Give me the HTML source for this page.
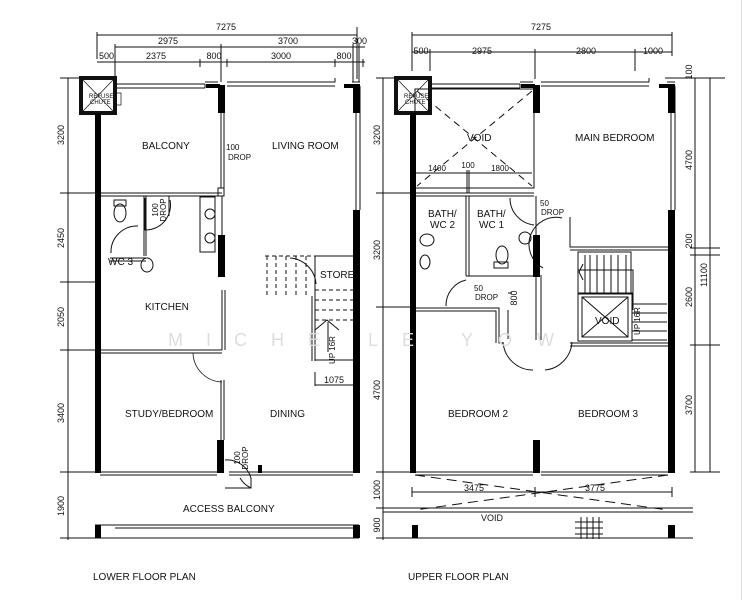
<!DOCTYPE html>
<html><head><meta charset="utf-8"><style>
html,body{margin:0;padding:0;background:#fff}
svg{display:block}
text{font-family:"Liberation Sans",sans-serif;fill:#111}
</style></head><body>
<svg width="743" height="600" viewBox="0 0 743 600" xmlns="http://www.w3.org/2000/svg">
<rect width="743" height="600" fill="#fff"/>
<line x1="741.5" y1="0" x2="741.5" y2="600" stroke="#ddd"/>
<g stroke="#111" stroke-width="1" fill="none">
<line x1="97" y1="35" x2="357" y2="35"/>
<line x1="115" y1="47" x2="365" y2="47"/>
<line x1="97" y1="62" x2="365" y2="62"/>
<path d="M97 32v24M357 27v52M115 44v38M221 44v38M353 44v38M359 44v38M97 59v-5M200 59v8M227 59v8M335 59v8M363 59v8"/>
<line x1="68" y1="78" x2="68" y2="540"/>
<path d="M60 78h20M60 193h35M60 282h35M60 350h35M60 472h35M60 538h35"/>
<rect x="81" y="78" width="34" height="35" stroke-width="4"/>
<path d="M83 80L113 111M113 80L83 111" stroke-width="0.7"/>
<rect x="115" y="93" width="6" height="12" stroke-width="0.7"/>
<path d="M115 84h90M115 88h90M205 84v4M205 82h13M360 82h-8M227 82h108v-4M227 86h108M335 78v4"/>
<path d="M360 86v124M356 113v97"/>
<path d="M221 113v75M224 113v75M100 193h122M100 196h122"/>
<rect x="218" y="188" width="6" height="8"/>
<rect x="200" y="197" width="15" height="55"/>
<circle cx="210" cy="214" r="5"/><circle cx="210" cy="238" r="5"/>
<path d="M222 196v40M222 290v60M225 290v60M100 350h122M100 353h122"/>
<path d="M221 380v60M224 380v60"/>
<path d="M222 382A30 30 0 0 1 193 353" stroke-width="0.8"/>
<path d="M146 196v60M144 196v60M169 196v20"/>
<path d="M110 258h36M110 261h36"/>
<ellipse cx="120" cy="213" rx="6" ry="9"/>
<rect x="114" y="200" width="12" height="6"/>
<path d="M111 253A26 26 0 0 1 138 226"/>
<ellipse cx="147" cy="265" rx="6" ry="7"/>
<path d="M145 198v32a25 25 0 0 0 25-30"/>
<g stroke-dasharray="4 3"><path d="M267 256v40M276 256v40M286 256v40M296 256v40M306 256v40M315 256v40M265 256h50M315 290h38M315 300h38M315 310h38M315 320h38"/></g>
<path d="M315 256h38M315 256v105M312 296v65M315 330l12 -10l12 10M328 322v30M315 360h38"/>
<path d="M290 258a28 28 0 0 1 26 26"/>
<path d="M315 372v14M315 385h38"/>
<path d="M100 472h117M100 475h117M229 472h124M229 475h124"/>
<path d="M225 460a25 25 0 0 1 26 18v10h-26M251 488a25 25 0 0 1 -11 -10"/>
<path d="M95 525h264M95 538h264M115 528h240"/>
<line x1="412" y1="35" x2="672" y2="35"/>
<line x1="412" y1="52" x2="672" y2="52"/>
<path d="M412 32v24M672 32v24M430 49v22M535 49v30M635 49v22M412 49v22"/>
<path d="M665 78h60"/>
<line x1="695" y1="78" x2="695" y2="472"/>
<line x1="710" y1="78" x2="710" y2="472"/>
<path d="M690 248h30M690 255h30M690 345h30M690 472h30"/>
<line x1="383" y1="78" x2="383" y2="540"/>
<path d="M376 78h20M376 193h35M376 307h35M376 472h35M376 508h35M376 538h35"/>
<rect x="396" y="78" width="34" height="35" stroke-width="4"/>
<path d="M398 80L428 111M428 80L398 111" stroke-width="0.7"/>
<path d="M430 84h90M430 88h90M520 84v4M520 82h13M675 82h-8M541 82h108v-4M541 86h108M649 78v4"/>
<path d="M675 86v124M671 113v97"/>
<rect x="415" y="89" width="119" height="99"/>
<path d="M417 91L532 186M532 91L417 186" stroke-dasharray="7 5"/>
<path d="M415 173h117M467 170v23M469 170v23"/>
<path d="M415 193h119M415 196h119M466 196v80M469 196v80M466 276h68"/>
<path d="M536 196v40M536 275v65M541 275v65"/>
<path d="M570 217v30h100M570 250h100"/>
<path d="M510 198a27 27 0 0 0 24 27M543 268a27 27 0 0 1 19 -50"/>
<ellipse cx="427" cy="240" rx="7" ry="6"/><ellipse cx="425" cy="262" rx="5" ry="7"/>
<ellipse cx="525" cy="238" rx="6" ry="6"/><ellipse cx="502" cy="255" rx="6" ry="9"/>
<rect x="494" y="262" width="14" height="6"/>
<path d="M446 306a26 26 0 0 1 20 -26M416 308h83v35h4M416 311h80v32"/>
<path d="M508 310v29M508 293h4"/>
<path d="M503 342a30 30 0 0 0 30 28M545 370a30 30 0 0 0 27 -28"/>
<rect x="578" y="252" width="53" height="42"/>
<path d="M585 255v38M590 255v38M597 255v38M604 255v38M611 255v38M618 255v38M626 255v38M578 270h55v40M583 264l-4 8l4 8"/>
<rect x="578" y="293" width="54" height="48"/>
<rect x="582" y="297" width="46" height="40"/>
<path d="M582 297l46 40M628 297l-46 40"/>
<path d="M632 304h35M632 313h35M632 322h35M632 331h35M632 340h35M570 343h100M570 346h100"/>
<path d="M415 472h118M415 475h118M541 472h127M541 475h127"/>
<path d="M415 475L668 510M668 475L415 510" stroke-dasharray="10 6"/>
<path d="M412 492h260M412 487v10M535 487v10M672 487v10"/>
<path d="M383 508h310M383 512h310M383 538h310"/>
<path d="M575 522h28M575 528h28M575 534h28M581 517v22M587 517v22M593 517v22M599 517v22"/>
</g>
<g fill="#000">
<rect x="95" y="113" width="6" height="360"/>
<rect x="218" y="85" width="7" height="28"/>
<rect x="353" y="84" width="7" height="29"/><rect x="344" y="84" width="14" height="4"/>
<rect x="206" y="84" width="14" height="4"/>
<rect x="353" y="210" width="7" height="263"/>
<rect x="218" y="235" width="7" height="42"/>
<rect x="217" y="440" width="7" height="33"/>
<rect x="258" y="465" width="4" height="8"/>
<rect x="95" y="525" width="6" height="13"/><rect x="353" y="525" width="7" height="13"/>
<rect x="410" y="113" width="6" height="360"/>
<rect x="533" y="85" width="7" height="28"/>
<rect x="668" y="84" width="7" height="29"/><rect x="659" y="84" width="14" height="4"/>
<rect x="521" y="84" width="14" height="4"/>
<rect x="668" y="210" width="7" height="263"/>
<rect x="533" y="235" width="7" height="42"/>
<rect x="533" y="440" width="7" height="33"/>
<rect x="412" y="525" width="6" height="13"/><rect x="668" y="525" width="7" height="13"/>
</g>
<g font-size="18" style="fill:#ddd">
<text x="168" y="346" style="fill:#ddd">M</text>
<text x="206" y="346" style="fill:#ddd">I</text>
<text x="234" y="346" style="fill:#ddd">C</text>
<text x="271" y="346" style="fill:#ddd">H</text>
<text x="308" y="346" style="fill:#ddd">E</text>
<text x="368" y="346" style="fill:#ddd">L</text>
<text x="402" y="346" style="fill:#ddd">E</text>
<text x="461" y="346" style="fill:#ddd">Y</text>
<text x="498" y="346" style="fill:#ddd">O</text>
<text x="537" y="346" style="fill:#ddd">W</text>
</g>
<g font-size="9">
<text x="226" y="30" text-anchor="middle">7275</text>
<text x="168" y="44" text-anchor="middle">2975</text>
<text x="288" y="44" text-anchor="middle">3700</text>
<text x="352" y="44">300</text>
<text x="99" y="59">500</text>
<text x="156" y="59" text-anchor="middle">2375</text>
<text x="214" y="59" text-anchor="middle">800</text>
<text x="281" y="59" text-anchor="middle">3000</text>
<text x="344" y="59" text-anchor="middle">800</text>
<text x="541" y="30" text-anchor="middle">7275</text>
<text x="421" y="54" text-anchor="middle">500</text>
<text x="482" y="54" text-anchor="middle">2975</text>
<text x="586" y="54" text-anchor="middle">2800</text>
<text x="653" y="54" text-anchor="middle">1000</text>
<text x="492" y="521" text-anchor="middle">VOID</text>
<text x="474" y="491" text-anchor="middle">3475</text>
<text x="595" y="491" text-anchor="middle">3775</text>
<text x="334" y="383" text-anchor="middle">1075</text>
<text x="437" y="171" text-anchor="middle" font-size="8">1400</text>
<text x="468" y="168" text-anchor="middle" font-size="8">100</text>
<text x="500" y="171" text-anchor="middle" font-size="8">1800</text>
</g>
<g font-size="9">
<text transform="translate(64,135) rotate(-90)" text-anchor="middle">3200</text>
<text transform="translate(64,238) rotate(-90)" text-anchor="middle">2450</text>
<text transform="translate(64,317) rotate(-90)" text-anchor="middle">2050</text>
<text transform="translate(64,413) rotate(-90)" text-anchor="middle">3400</text>
<text transform="translate(64,506) rotate(-90)" text-anchor="middle">1900</text>
<text transform="translate(380,135) rotate(-90)" text-anchor="middle">3200</text>
<text transform="translate(380,250) rotate(-90)" text-anchor="middle">3200</text>
<text transform="translate(380,390) rotate(-90)" text-anchor="middle">4700</text>
<text transform="translate(380,490) rotate(-90)" text-anchor="middle">1000</text>
<text transform="translate(380,525) rotate(-90)" text-anchor="middle">900</text>
<text transform="translate(692,72) rotate(-90)" text-anchor="middle">100</text>
<text transform="translate(692,160) rotate(-90)" text-anchor="middle">4700</text>
<text transform="translate(692,241) rotate(-90)" text-anchor="middle">200</text>
<text transform="translate(692,297) rotate(-90)" text-anchor="middle">2600</text>
<text transform="translate(692,405) rotate(-90)" text-anchor="middle">3700</text>
<text transform="translate(707,275) rotate(-90)" text-anchor="middle">11100</text>
<text transform="translate(517,298) rotate(-90)" text-anchor="middle">800</text>
<text transform="translate(335,350) rotate(-90)" text-anchor="middle" font-size="8">UP 16R</text>
<text transform="translate(640,321) rotate(-90)" text-anchor="middle" font-size="8">UP 16R</text>
<text transform="translate(158,210) rotate(-90)" text-anchor="middle" font-size="8">100</text>
<text transform="translate(166,210) rotate(-90)" text-anchor="middle" font-size="8">DROP</text>
<text transform="translate(240,458) rotate(-90)" text-anchor="middle" font-size="8">100</text>
<text transform="translate(248,458) rotate(-90)" text-anchor="middle" font-size="8">DROP</text>
</g>
<g font-size="10">
<text x="142" y="149">BALCONY</text>
<text x="272" y="149">LIVING ROOM</text>
<text x="108" y="265">WC 3</text>
<text x="145" y="310">KITCHEN</text>
<text x="320" y="278">STORE</text>
<text x="125" y="417">STUDY/BEDROOM</text>
<text x="270" y="417">DINING</text>
<text x="183" y="512">ACCESS BALCONY</text>
<text x="93" y="580">LOWER FLOOR PLAN</text>
<text x="575" y="141">MAIN BEDROOM</text>
<text x="467" y="141">VOID</text>
<text x="428" y="217">BATH/</text>
<text x="430" y="228">WC 2</text>
<text x="477" y="217">BATH/</text>
<text x="479" y="228">WC 1</text>
<text x="448" y="417">BEDROOM 2</text>
<text x="578" y="417">BEDROOM 3</text>
<text x="595" y="324">VOID</text>
<text x="408" y="580">UPPER FLOOR PLAN</text>
</g>
<g font-size="8">
<text x="226" y="150">100</text><text x="228" y="160">DROP</text>
<text x="540" y="206">50</text><text x="541" y="215">DROP</text>
<text x="474" y="291">50</text><text x="475" y="300">DROP</text>
<text x="89" y="98" font-size="6">REFUSE</text><text x="90" y="104" font-size="6">CHUTE</text>
<text x="404" y="98" font-size="6">REFUSE</text><text x="405" y="104" font-size="6">CHUTE</text>
</g>
</svg>
</body></html>
